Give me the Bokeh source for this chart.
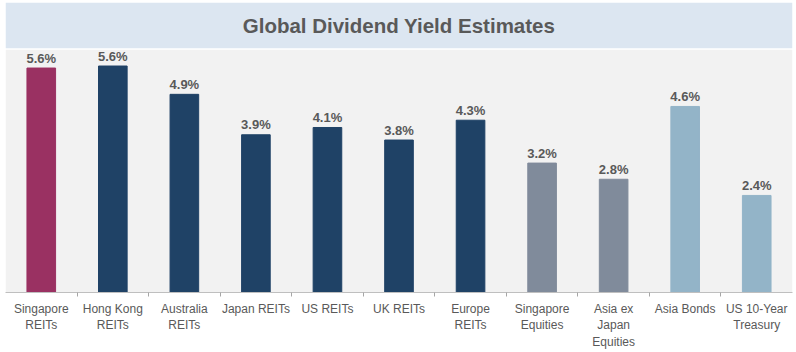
from bokeh.plotting import figure
from bokeh.models import (ColumnDataSource, Range1d, FixedTicker, BoxAnnotation, Label)
from bokeh.embed import file_html
from bokeh.resources import INLINE
from bokeh.core.properties import value

# ---- data ----
categories = ["Singapore\nREITs", "Hong Kong\nREITs", "Australia\nREITs", "Japan REITs",
              "US REITs", "UK REITs", "Europe\nREITs", "Singapore\nEquities",
              "Asia ex\nJapan\nEquities", "Asia Bonds", "US 10-Year\nTreasury"]
yields = [5.55, 5.6, 4.9, 3.9, 4.08, 3.77, 4.26, 3.2, 2.8, 4.6, 2.4]
yield_labels = ["5.6%", "5.6%", "4.9%", "3.9%", "4.1%", "3.8%", "4.3%", "3.2%", "2.8%", "4.6%", "2.4%"]
title_text = "Global Dividend Yield Estimates"
y_axis_max = 6.0

# ---- styles ----
bar_colors = ["#9a3162", "#1f4266", "#1f4266", "#1f4266", "#1f4266", "#1f4266", "#1f4266",
              "#808b9b", "#808b9b", "#93b4c8", "#93b4c8"]
FONT = "Liberation Sans"
TEXT_COLOR = "#595959"

W, H = 796, 352
left, right, top, bottom = 5, 4, 2, 56
frame_h = H - top - bottom           # 294
plot_px = 246                        # pixels used by 0..y_axis_max
px_per_unit = plot_px / y_axis_max
y_top = frame_h / px_per_unit

n = len(categories)
xs = [i + 0.5 for i in range(n)]

src = ColumnDataSource(dict(x=xs, y=yields, lab=yield_labels, color=bar_colors))

p = figure(width=W, height=H, output_backend="svg", toolbar_location=None,
           x_range=Range1d(0, n), y_range=Range1d(0, y_top),
           min_border_left=left, min_border_right=right,
           min_border_top=top, min_border_bottom=bottom,
           y_axis_location=None, tools="")
p.background_fill_color = "white"
p.border_fill_color = "white"
p.outline_line_color = None
p.xgrid.visible = False
p.ygrid.visible = False

# grey plot area and title band
band_bottom = y_axis_max + 1.5 / px_per_unit
p.add_layout(BoxAnnotation(top=y_axis_max, fill_color="#f2f2f2", fill_alpha=1, line_color=None, level="underlay"))
p.add_layout(BoxAnnotation(bottom=band_bottom, fill_color="#dce6f1", fill_alpha=1,
                           line_color=None, level="underlay"))
p.add_layout(Label(x=n / 2, y=(band_bottom + y_top) / 2,
                   text=title_text, text_align="center", text_baseline="middle",
                   text_font=FONT, text_font_size="20.5px", text_font_style="bold",
                   text_color=TEXT_COLOR))

p.vbar(x="x", top="y", width=0.4, bottom=0, color="color", source=src)
p.text(x="x", y="y", text="lab", source=src, text_align="center", text_baseline="alphabetic",
       y_offset=-10, text_font=value(FONT), text_font_size="13px", text_font_style="bold",
       text_color=TEXT_COLOR)

ax = p.xaxis[0]
ax.ticker = FixedTicker(ticks=xs, minor_ticks=list(range(1, n)))
ax.major_label_overrides = {x: c for x, c in zip(xs, categories)}
ax.major_tick_line_color = None
ax.major_tick_out = 0
ax.major_tick_in = 0
ax.minor_tick_line_color = "#a6a6a6"
ax.minor_tick_out = 4
ax.minor_tick_in = 0
ax.axis_line_color = "#bfbfbf"
ax.major_label_standoff = 5
ax.major_label_text_font = FONT
ax.major_label_text_font_size = "12px"
ax.major_label_text_color = TEXT_COLOR

open("out.html", "w").write(file_html(p, INLINE))
